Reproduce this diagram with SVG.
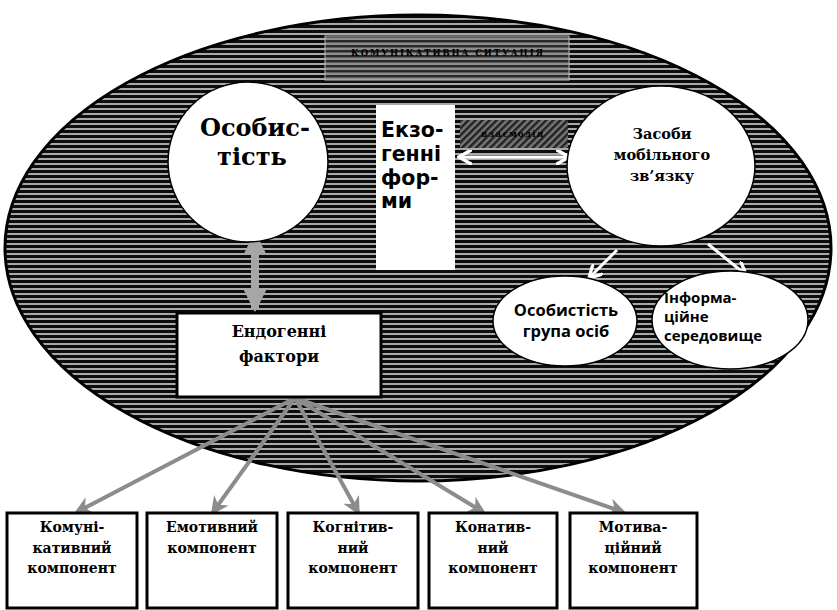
<svg xmlns="http://www.w3.org/2000/svg" width="837" height="610" viewBox="0 0 837 610">
<defs>
<pattern id="stripes" width="8" height="5" patternUnits="userSpaceOnUse">
<rect width="8" height="5" fill="#0d0d0d"/>
<rect y="3" width="8" height="2" fill="#a8a8a8"/>
</pattern>
<pattern id="stripes2" width="8" height="5" patternUnits="userSpaceOnUse">
<rect width="8" height="5" fill="#2a2a2a"/>
<rect y="2.5" width="8" height="2.5" fill="#8e8e8e"/>
</pattern>
<pattern id="hatch" width="5" height="5" patternUnits="userSpaceOnUse" patternTransform="rotate(45)">
<rect width="5" height="5" fill="#777"/>
<rect width="2.5" height="5" fill="#222"/>
</pattern>
<marker id="wh" viewBox="0 0 10 10" refX="8" refY="5" markerWidth="5" markerHeight="5" orient="auto-start-reverse">
<path d="M0,0 L9,5 L0,10" fill="none" stroke="#fff" stroke-width="2.2"/>
</marker>
<marker id="gh" viewBox="0 0 10 10" refX="8" refY="5" markerWidth="2.8" markerHeight="2.8" orient="auto-start-reverse">
<path d="M0,0 L10,5 L0,10 z" fill="#a6a6a6"/>
</marker>
<marker id="gh2" viewBox="0 0 10 10" refX="8" refY="5" markerWidth="4.5" markerHeight="4.5" orient="auto">
<path d="M0,0 L10,5 L0,10 L3,5 z" fill="#8c8c8c"/>
</marker>
</defs>
<style>
.sf{font-family:'DejaVu Serif','Liberation Serif',serif;font-weight:bold}
.ss{font-family:'Open Sans','DejaVu Sans',sans-serif;font-weight:bold}
.dv{font-family:'DejaVu Sans','Open Sans',sans-serif;font-weight:bold}
.box{fill:#fff;stroke:#000;stroke-width:3}
.wnode{fill:#fff;stroke:#000;stroke-width:1.5}
.gl{stroke:#8c8c8c;stroke-width:4;fill:none}
</style>
<rect width="837" height="610" fill="#fff"/>
<g id="field">
<ellipse cx="418" cy="248" rx="413" ry="233" fill="url(#stripes)" stroke="#000" stroke-width="3"/>
<rect x="325" y="36" width="244" height="44" fill="url(#stripes2)" stroke="#bbb" stroke-width="1"/>
<text x="448" y="56" class="sf" font-size="8.5" text-anchor="middle" letter-spacing="1.9">КОМУНІКАТИВНА СИТУАЦІЯ</text>
</g>
<g id="connectors">
<line x1="460" y1="157" x2="568" y2="157" stroke="#fff" stroke-width="3" marker-start="url(#wh)" marker-end="url(#wh)"/>
<line x1="617" y1="250" x2="590" y2="277" stroke="#fff" stroke-width="3" marker-end="url(#wh)"/>
<line x1="708" y1="244" x2="745" y2="274" stroke="#fff" stroke-width="3" marker-end="url(#wh)"/>
<line x1="255" y1="236" x2="255" y2="308" stroke="#a6a6a6" stroke-width="8" marker-start="url(#gh)" marker-end="url(#gh)"/>
<line x1="295" y1="398" x2="77" y2="512" class="gl" marker-end="url(#gh2)"/>
<line x1="295" y1="398" x2="213" y2="512" class="gl" marker-end="url(#gh2)"/>
<line x1="295" y1="398" x2="358" y2="512" class="gl" marker-end="url(#gh2)"/>
<line x1="295" y1="398" x2="483" y2="512" class="gl" marker-end="url(#gh2)"/>
<line x1="295" y1="398" x2="623" y2="512" class="gl" marker-end="url(#gh2)"/>
</g>
<g id="osobystist">
<circle cx="248" cy="162" r="80" class="wnode"/>
<text class="sf" font-size="24" text-anchor="middle"><tspan x="255" y="136">Особис-</tspan><tspan x="252" y="165">тість</tspan></text>
</g>
<g id="ekzo">
<rect x="376" y="105" width="79" height="165" fill="#fff"/>
<text class="dv" font-size="20.5"><tspan x="381" y="137">Екзо-</tspan><tspan x="381" y="161">генні</tspan><tspan x="381" y="185">фор-</tspan><tspan x="381" y="208">ми</tspan></text>
</g>
<g id="vzaiemodiia">
<rect x="460" y="120" width="108" height="28" fill="url(#hatch)"/>
<text x="513" y="137" class="sf" font-size="8.5" text-anchor="middle" letter-spacing="1.5">взаємодія</text>
</g>
<g id="zasoby">
<ellipse cx="661" cy="166" rx="94" ry="80" class="wnode"/>
<text class="sf" font-size="14.5" text-anchor="middle"><tspan x="662" y="139">Засоби</tspan><tspan x="662" y="160">мобільного</tspan><tspan x="662" y="181">зв’язку</tspan></text>
</g>
<g id="grupa">
<ellipse cx="565" cy="321" rx="72" ry="45" class="wnode"/>
<text class="ss" font-size="16.5" text-anchor="middle"><tspan x="566" y="316">Особистість</tspan><tspan x="566" y="337">група осіб</tspan></text>
</g>
<g id="inform">
<ellipse cx="730" cy="320" rx="78" ry="49" class="wnode"/>
<text class="ss" font-size="15"><tspan x="664" y="303">Інформа-</tspan><tspan x="664" y="322">ційне</tspan><tspan x="664" y="341">середовище</tspan></text>
</g>
<g id="endo">
<rect x="177" y="313" width="204" height="84" class="box"/>
<text class="sf" font-size="16" text-anchor="middle"><tspan x="279" y="337">Ендогенні</tspan><tspan x="279" y="362">фактори</tspan></text>
</g>
<g id="k1">
<rect x="7" y="513" width="130" height="95" class="box"/>
<text class="sf" font-size="14" text-anchor="middle"><tspan x="72" y="532">Комуні-</tspan><tspan x="72" y="553">кативний</tspan><tspan x="72" y="573">компонент</tspan></text>
</g>
<g id="k2">
<rect x="147" y="513" width="130" height="95" class="box"/>
<text class="sf" font-size="14" text-anchor="middle"><tspan x="212" y="532">Емотивний</tspan><tspan x="212" y="553">компонент</tspan></text>
</g>
<g id="k3">
<rect x="288" y="513" width="130" height="95" class="box"/>
<text class="sf" font-size="14" text-anchor="middle"><tspan x="353" y="532">Когнітив-</tspan><tspan x="353" y="553">ний</tspan><tspan x="353" y="573">компонент</tspan></text>
</g>
<g id="k4">
<rect x="429" y="513" width="128" height="95" class="box"/>
<text class="sf" font-size="14" text-anchor="middle"><tspan x="493" y="532">Конатив-</tspan><tspan x="493" y="553">ний</tspan><tspan x="493" y="573">компонент</tspan></text>
</g>
<g id="k5">
<rect x="570" y="513" width="127" height="95" class="box"/>
<text class="sf" font-size="14" text-anchor="middle"><tspan x="633" y="532">Мотива-</tspan><tspan x="633" y="553">ційний</tspan><tspan x="633" y="573">компонент</tspan></text>
</g>
</svg>
